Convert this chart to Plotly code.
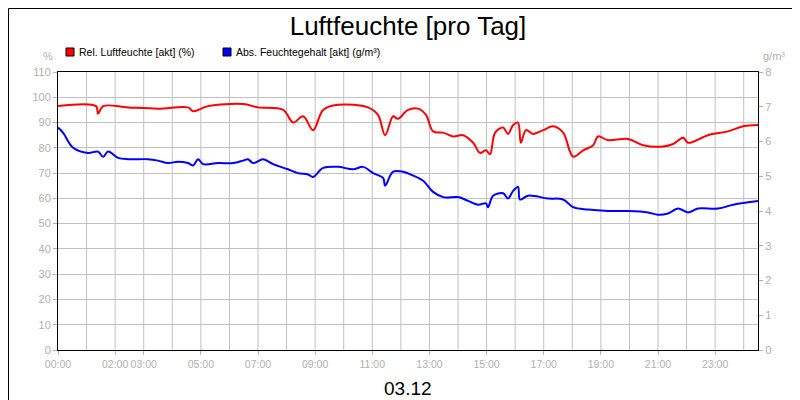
import plotly.graph_objects as go

rel_h = [0,1.33,1.4,1.58,2.45,3.5,4.55,4.73,5.25,6.48,7,7.88,8.23,8.58,8.93,9.28,9.8,10.85,11.2,11.45,11.73,11.9,12.25,12.6,12.88,13.13,13.48,13.83,14.18,14.53,14.77,14.98,15.12,15.3,15.58,15.75,15.93,16.1,16.2,16.38,16.63,16.98,17.33,17.68,18.03,18.38,18.73,18.9,19.25,19.95,20.48,21.18,21.53,21.88,22.05,22.75,23.45,23.98,24.5]
rel_v = [96.5,96.5,93.5,96.5,96,95.5,96,94.5,96.5,97.3,96,95,90,92.5,87,95,97,96,93,85,92.5,91.5,95,95.5,93,86.5,86,84.5,85,82,78,79,77.5,86,88,85.5,89,90,82,87,85.5,87,88.5,86,76.5,79,81,84.5,83,83.5,81,80.5,81.5,84,82,85,86.5,88.5,89]

abs_h = [0,0.18,0.53,1.05,1.4,1.58,1.75,2.1,2.45,3.15,3.5,3.85,4.2,4.55,4.73,4.9,5.08,5.6,6.13,6.48,6.65,6.83,7.18,7.53,8.05,8.4,8.75,8.93,9.28,9.8,10.33,10.68,11.03,11.38,11.45,11.73,12.08,12.43,12.78,13.13,13.48,14,14.35,14.7,14.98,15.05,15.23,15.58,15.75,15.93,16.1,16.17,16.45,17.15,17.68,18.03,18.55,19.25,19.95,20.65,21,21.35,21.7,22.05,22.4,23.1,23.63,24.15,24.5]
abs_v = [6.4,6.25,5.82,5.67,5.71,5.56,5.71,5.53,5.49,5.49,5.45,5.38,5.42,5.38,5.31,5.49,5.35,5.38,5.38,5.45,5.49,5.38,5.49,5.35,5.2,5.09,5.05,4.98,5.24,5.27,5.2,5.27,5.09,4.95,4.73,5.13,5.13,5.02,4.87,4.55,4.4,4.4,4.29,4.18,4.22,4.11,4.44,4.51,4.36,4.58,4.69,4.33,4.44,4.36,4.33,4.11,4.04,4.0,4.0,3.96,3.89,3.93,4.07,3.96,4.07,4.07,4.18,4.25,4.29]

tick_vals = [0,2,3,5,7,9,11,13,15,17,19,21,23]
tick_text = ["00:00","02:00","03:00","05:00","07:00","09:00","11:00","13:00","15:00","17:00","19:00","21:00","23:00"]
legend_names = ["Rel. Luftfeuchte [akt] (%)", "Abs. Feuchtegehalt [akt] (g/m³)"]

RED = "#ff0000"; BLUE = "#0000ff"; GRAY = "#b0b0b0"
W, H = 700, 278  # plot area px

def px(x): return (x - 50) / W
def py(y): return (342 - y) / H

fig = go.Figure()
fig.add_trace(go.Scatter(x=rel_h, y=rel_v, mode="lines", line=dict(color=RED, width=2), showlegend=False, line_shape="spline"))
fig.add_trace(go.Scatter(x=abs_h, y=abs_v, mode="lines", line=dict(color=BLUE, width=2), yaxis="y2", showlegend=False, line_shape="spline"))

shapes = [dict(type="rect", xref="paper", yref="paper", x0=px(0.5), x1=px(799.5), y0=py(399.5), y1=py(0.5),
               line=dict(color="black", width=1))]
shapes += [dict(type="line", xref="x", yref="paper", x0=h, x1=h, y0=0, y1=1, line=dict(color="#c0c0c0", width=1), layer="below")
           for h in range(1, 25)]
annotations = [
    dict(text="%", xref="paper", yref="paper", x=px(47), y=py(48), xanchor="right", yanchor="middle", showarrow=False, font=dict(size=11, color=GRAY)),
    dict(text="g/m³", xref="paper", yref="paper", x=px(753), y=py(48), xanchor="left", yanchor="middle", showarrow=False, font=dict(size=11, color=GRAY)),
    dict(text="03.12", xref="paper", yref="paper", x=0.5, y=py(380), xanchor="center", yanchor="middle", showarrow=False, font=dict(size=19, color="black")),
]
for i, (nm, col, x0) in enumerate(zip(legend_names, [RED, BLUE], [58, 215])):
    shapes.append(dict(type="rect", xref="paper", yref="paper", x0=px(x0), x1=px(x0 + 8), y0=py(48), y1=py(40),
                       fillcolor=col, line=dict(color="black", width=1)))
    annotations.append(dict(text=nm, xref="paper", yref="paper", x=px(x0 + 11), y=py(44), xanchor="left", yanchor="middle",
                            showarrow=False, font=dict(size=10.5, color="black")))

fig.update_layout(
    width=800, height=400, margin=dict(l=50, r=50, t=64, b=58, autoexpand=False),
    paper_bgcolor="white", plot_bgcolor="white",
    font=dict(family="Liberation Sans, Arial", size=11, color=GRAY),
    title=dict(text="Luftfeuchte [pro Tag]", x=0.5, xanchor="center", y=1 - 18 / 400, yanchor="middle",
               font=dict(size=26, color="black")),
    showlegend=False,
    xaxis=dict(range=[0, 24.5], tickvals=tick_vals, ticktext=tick_text, tickangle=0, tickfont=dict(size=10.5),
               showgrid=False, showline=True, linecolor="black", mirror=True, ticks="outside", ticklen=4,
               tickcolor=GRAY, zeroline=False, automargin=False),
    yaxis=dict(range=[0, 110], dtick=10, showgrid=True, gridcolor="#c0c0c0", showline=True,
               linecolor="black", mirror=True, ticks="outside", ticklen=4, tickcolor=GRAY, zeroline=False, automargin=False),
    yaxis2=dict(range=[0, 8], dtick=1, overlaying="y", side="right", showgrid=False,
                ticks="outside", ticklen=4, tickcolor=GRAY, zeroline=False, automargin=False),
    annotations=annotations, shapes=shapes,
)
fig.write_html("out.html")
